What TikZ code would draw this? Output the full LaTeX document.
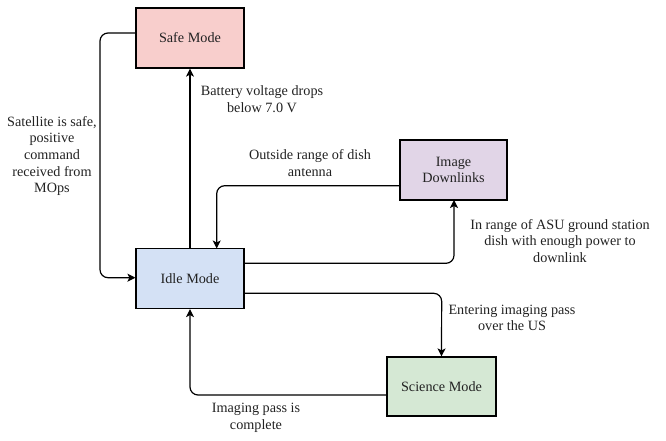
\documentclass[tikz,border=0pt]{standalone}
\usepackage{fontspec}
\setmainfont{Liberation Serif}
\usetikzlibrary{arrows.meta}
\definecolor{safefill}{HTML}{F8CECC}
\definecolor{idlefill}{HTML}{D4E1F5}
\definecolor{imgfill}{HTML}{E1D5E7}
\definecolor{scifill}{HTML}{D5E8D4}
\definecolor{txt}{HTML}{222222}
\begin{document}
\begin{tikzpicture}[x=1pt,y=-1pt,
  box/.style={draw=black,line width=1.2pt,minimum width=108pt,minimum height=60pt,inner sep=0pt,align=center,text=txt,font=\fontsize{14.2}{16.7}\selectfont},
  conn/.style={draw=black,line width=1.2pt,rounded corners=8pt,-{Stealth[length=8pt,width=8pt,inset=2pt]}},
  lbl/.style={align=center,text=txt,inner sep=0pt,font=\fontsize{14.2}{16.7}\selectfont}]
\useasboundingbox (0,0) rectangle (666,441);
\node[box,fill=safefill] (safe) at (190,38) {Safe Mode};
\node[box,fill=idlefill] (idle) at (190,278.5) {Idle Mode};
\node[box,fill=imgfill,minimum width=107pt] (img) at (453.5,170) {Image\\Downlinks};
\node[box,fill=scifill,minimum width=109pt,minimum height=59pt] (sci) at (441.5,386.5) {Science Mode};
% connectors
\draw[conn] (idle.north) -- (safe.south);
\coordinate (sl) at (safe.west |- 0,33);
\draw[conn] (sl) -- (100,33) -- (100,277.7) -- (idle.west |- 0,277.7);
\coordinate (il) at (img.west |- 0,185.7);
\draw[conn] (il) -- (216.7,185.7) -- (216.7,248.5);
\coordinate (ir1) at (idle.east |- 0,263.3);
\draw[conn] (ir1) -- (454,263.3) -- (454,200);
\coordinate (ir2) at (idle.east |- 0,293.3);
\draw[conn] (ir2) -- (441.7,293.3) -- (sci.north);
\coordinate (scl) at (sci.west |- 0,395);
\draw[conn] (scl) -- (190,395) -- (idle.south);
% labels
\node[lbl] (l1) at (262,99) {Battery voltage drops\\below 7.0 V};
\node[lbl] (l2) at (52,156) {Satellite is safe,\\positive\\command\\received from\\MOps};
\node[lbl] (l3) at (310,163) {Outside range of dish\\antenna};
\node[lbl] (l4) at (560,241) {In range of ASU ground station\\dish with enough power to\\downlink};
\node[lbl] (l5) at (512,318) {Entering imaging pass\\over the US};
\node[lbl] (l6) at (256,418) {Imaging pass is\\complete};
\end{tikzpicture}
\end{document}
